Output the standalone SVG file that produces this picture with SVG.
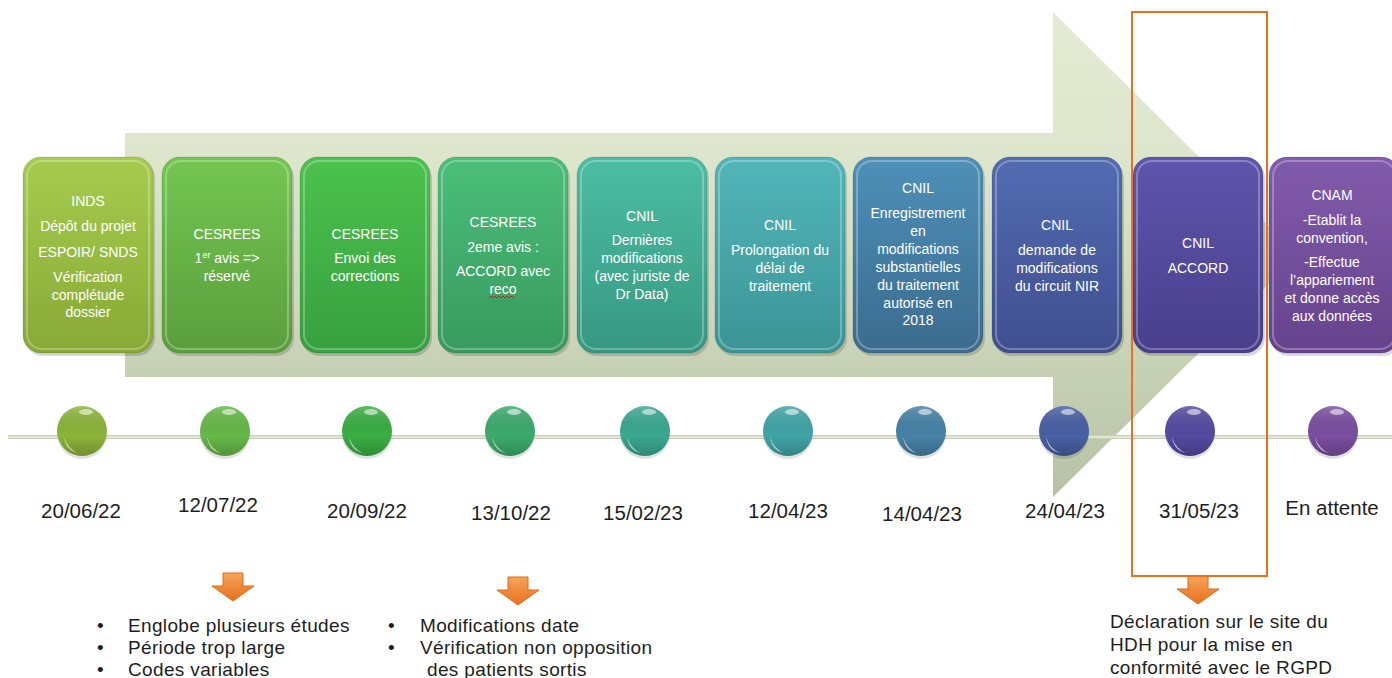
<svg xmlns="http://www.w3.org/2000/svg" width="1392" height="678" viewBox="0 0 1392 678">
<defs>
<linearGradient id="arrowG" x1="0" y1="12" x2="0" y2="497" gradientUnits="userSpaceOnUse">
<stop offset="0" stop-color="#e3ebd4"/><stop offset="0.3" stop-color="#dde6cc"/><stop offset="0.75" stop-color="#c5d0b4"/><stop offset="1" stop-color="#b6c2a6"/>
</linearGradient>
<linearGradient id="g1" x1="0" y1="0" x2="0" y2="1"><stop offset="0" stop-color="#a6cc4e"/><stop offset="1" stop-color="#88a936"/></linearGradient>
<linearGradient id="g2" x1="0" y1="0" x2="0" y2="1"><stop offset="0" stop-color="#74c652"/><stop offset="1" stop-color="#5a9e3c"/></linearGradient>
<linearGradient id="g3" x1="0" y1="0" x2="0" y2="1"><stop offset="0" stop-color="#4cc24e"/><stop offset="1" stop-color="#37a03f"/></linearGradient>
<linearGradient id="g4" x1="0" y1="0" x2="0" y2="1"><stop offset="0" stop-color="#4cbe7a"/><stop offset="1" stop-color="#389a5e"/></linearGradient>
<linearGradient id="g5" x1="0" y1="0" x2="0" y2="1"><stop offset="0" stop-color="#4cbea2"/><stop offset="1" stop-color="#379882"/></linearGradient>
<linearGradient id="g6" x1="0" y1="0" x2="0" y2="1"><stop offset="0" stop-color="#52b6ba"/><stop offset="1" stop-color="#3b9496"/></linearGradient>
<linearGradient id="g7" x1="0" y1="0" x2="0" y2="1"><stop offset="0" stop-color="#4e90b8"/><stop offset="1" stop-color="#3b6b8e"/></linearGradient>
<linearGradient id="g8" x1="0" y1="0" x2="0" y2="1"><stop offset="0" stop-color="#526cb2"/><stop offset="1" stop-color="#404e8e"/></linearGradient>
<linearGradient id="g9" x1="0" y1="0" x2="0" y2="1"><stop offset="0" stop-color="#5e56ac"/><stop offset="1" stop-color="#4a3e8c"/></linearGradient>
<linearGradient id="g10" x1="0" y1="0" x2="0" y2="1"><stop offset="0" stop-color="#825cac"/><stop offset="1" stop-color="#66428c"/></linearGradient>
<linearGradient id="og" x1="0" y1="0" x2="0" y2="1"><stop offset="0" stop-color="#f5a45a"/><stop offset="1" stop-color="#e8701e"/></linearGradient>
<linearGradient id="dotShade" x1="0" y1="0" x2="0" y2="1"><stop offset="0" stop-color="#fff" stop-opacity="0.18"/><stop offset="0.6" stop-color="#000" stop-opacity="0"/><stop offset="1" stop-color="#000" stop-opacity="0.2"/></linearGradient>
<symbol id="oarrow" overflow="visible">
<path d="M-10,0 H10 V13 H21 L0,28 L-21,13 H-10 Z" fill="url(#og)" stroke="#e06a18" stroke-width="1"/>
</symbol>
</defs>
<style>
.box{stroke:rgba(0,0,0,0.12);stroke-width:1}
.rim{fill:none;stroke:#ffffff;stroke-opacity:0.28;stroke-width:2}
.bt{font-family:"Liberation Sans",Arial,sans-serif;font-size:14px;fill:#ffffff;text-anchor:middle}
.dt{font-family:"Liberation Sans",Arial,sans-serif;font-size:20.5px;fill:#1e1e1e;text-anchor:middle}
.lt{font-family:"Liberation Sans",Arial,sans-serif;font-size:19px;letter-spacing:0.35px;fill:#1e1e1e}
.hl{fill:#ffffff;fill-opacity:0.55}
</style>

<g id="big-arrow">
<polygon points="125,133 1053,133 1053,12 1298,255 1053,497 1053,377 125,377" fill="url(#arrowG)"/>
</g>

<g id="timeline-line">
<line x1="8" y1="437" x2="1392" y2="437" stroke="#c5d0b5" stroke-width="4"/>
<line x1="8" y1="437" x2="1392" y2="437" stroke="#e9efdf" stroke-width="1.5"/>
</g>

<g id="box1">
<rect x="25" y="160" width="130" height="196" rx="18" fill="#000" opacity="0.15"/>
<rect class="box" x="23" y="157" width="130" height="196" rx="18" fill="url(#g1)"/>
<rect class="rim" x="27" y="161" width="122" height="188" rx="15"/>
<text class="bt" x="88"><tspan x="88" y="206">INDS</tspan><tspan x="88" y="231">Dépôt du projet</tspan><tspan x="88" y="257">ESPOIR/ SNDS</tspan><tspan x="88" y="282">Vérification</tspan><tspan x="88" y="300">complétude</tspan><tspan x="88" y="317">dossier</tspan></text>
</g>
<g id="box2">
<rect x="164" y="160" width="130" height="196" rx="18" fill="#000" opacity="0.15"/>
<rect class="box" x="162" y="157" width="130" height="196" rx="18" fill="url(#g2)"/>
<rect class="rim" x="166" y="161" width="122" height="188" rx="15"/>
<text class="bt"><tspan x="227" y="239">CESREES</tspan><tspan x="227" y="263">1<tspan font-size="9" dy="-5">er</tspan><tspan dy="5"> avis =&gt;</tspan></tspan><tspan x="227" y="281">réservé</tspan></text>
</g>
<g id="box3">
<rect x="302" y="160" width="130" height="196" rx="18" fill="#000" opacity="0.15"/>
<rect class="box" x="300" y="157" width="130" height="196" rx="18" fill="url(#g3)"/>
<rect class="rim" x="304" y="161" width="122" height="188" rx="15"/>
<text class="bt"><tspan x="365" y="239">CESREES</tspan><tspan x="365" y="263">Envoi des</tspan><tspan x="365" y="281">corrections</tspan></text>
</g>
<g id="box4">
<rect x="440" y="160" width="130" height="196" rx="18" fill="#000" opacity="0.15"/>
<rect class="box" x="438" y="157" width="130" height="196" rx="18" fill="url(#g4)"/>
<rect class="rim" x="442" y="161" width="122" height="188" rx="15"/>
<text class="bt"><tspan x="503" y="227">CESREES</tspan><tspan x="503" y="252">2eme avis :</tspan><tspan x="503" y="276">ACCORD avec</tspan><tspan x="503" y="294">reco</tspan></text>
<path d="M489,298 l2,-2 l2,2 l2,-2 l2,2 l2,-2 l2,2 l2,-2 l2,2 l2,-2 l2,2 l2,-2 l2,2 l2,-2" fill="none" stroke="#d02020" stroke-width="1"/>
</g>
<g id="box5">
<rect x="579" y="160" width="130" height="196" rx="18" fill="#000" opacity="0.15"/>
<rect class="box" x="577" y="157" width="130" height="196" rx="18" fill="url(#g5)"/>
<rect class="rim" x="581" y="161" width="122" height="188" rx="15"/>
<text class="bt"><tspan x="642" y="221">CNIL</tspan><tspan x="642" y="245">Dernières</tspan><tspan x="642" y="263">modifications</tspan><tspan x="642" y="281">(avec juriste de</tspan><tspan x="642" y="299">Dr Data)</tspan></text>
</g>
<g id="box6">
<rect x="717" y="160" width="130" height="196" rx="18" fill="#000" opacity="0.15"/>
<rect class="box" x="715" y="157" width="130" height="196" rx="18" fill="url(#g6)"/>
<rect class="rim" x="719" y="161" width="122" height="188" rx="15"/>
<text class="bt"><tspan x="780" y="230">CNIL</tspan><tspan x="780" y="255">Prolongation du</tspan><tspan x="780" y="273">délai de</tspan><tspan x="780" y="291">traitement</tspan></text>
</g>
<g id="box7">
<rect x="855" y="160" width="130" height="196" rx="18" fill="#000" opacity="0.15"/>
<rect class="box" x="853" y="157" width="130" height="196" rx="18" fill="url(#g7)"/>
<rect class="rim" x="857" y="161" width="122" height="188" rx="15"/>
<text class="bt"><tspan x="918" y="193">CNIL</tspan><tspan x="918" y="218">Enregistrement</tspan><tspan x="918" y="236">en</tspan><tspan x="918" y="254">modifications</tspan><tspan x="918" y="272">substantielles</tspan><tspan x="918" y="290">du traitement</tspan><tspan x="918" y="308">autorisé en</tspan><tspan x="918" y="325">2018</tspan></text>
</g>
<g id="box8">
<rect x="994" y="160" width="130" height="196" rx="18" fill="#000" opacity="0.15"/>
<rect class="box" x="992" y="157" width="130" height="196" rx="18" fill="url(#g8)"/>
<rect class="rim" x="996" y="161" width="122" height="188" rx="15"/>
<text class="bt"><tspan x="1057" y="230">CNIL</tspan><tspan x="1057" y="255">demande de</tspan><tspan x="1057" y="273">modifications</tspan><tspan x="1057" y="291">du circuit NIR</tspan></text>
</g>
<g id="box9">
<rect x="1135" y="160" width="130" height="196" rx="18" fill="#000" opacity="0.15"/>
<rect class="box" x="1133" y="157" width="130" height="196" rx="18" fill="url(#g9)"/>
<rect class="rim" x="1137" y="161" width="122" height="188" rx="15"/>
<text class="bt"><tspan x="1198" y="248">CNIL</tspan><tspan x="1198" y="273">ACCORD</tspan></text>
</g>
<g id="box10">
<rect x="1271" y="160" width="130" height="196" rx="18" fill="#000" opacity="0.15"/>
<rect class="box" x="1269" y="157" width="130" height="196" rx="18" fill="url(#g10)"/>
<rect class="rim" x="1273" y="161" width="122" height="188" rx="15"/>
<text class="bt"><tspan x="1332" y="200">CNAM</tspan><tspan x="1332" y="225">-Etablit la</tspan><tspan x="1332" y="243">convention,</tspan><tspan x="1332" y="267">-Effectue</tspan><tspan x="1332" y="285">l’appariement</tspan><tspan x="1332" y="303">et donne accès</tspan><tspan x="1332" y="321">aux données</tspan></text>
</g>

<g id="dots">
<g id="dot1"><ellipse cx="82" cy="434" rx="25" ry="25" fill="#000" opacity="0.12"/><circle cx="82" cy="431" r="25" fill="#8cb43a"/><circle cx="82" cy="431" r="25" fill="url(#dotShade)"/><path class="hl" d="M64,437 q4,12 14,16 q-12,-2 -14,-16 z"/><ellipse class="hl" cx="86" cy="412" rx="7" ry="3"/></g>
<g id="dot2"><ellipse cx="225" cy="434" rx="25" ry="25" fill="#000" opacity="0.12"/><circle cx="225" cy="431" r="25" fill="#66b848"/><circle cx="225" cy="431" r="25" fill="url(#dotShade)"/><path class="hl" d="M207,437 q4,12 14,16 q-12,-2 -14,-16 z"/><ellipse class="hl" cx="229" cy="412" rx="7" ry="3"/></g>
<g id="dot3"><ellipse cx="367" cy="434" rx="25" ry="25" fill="#000" opacity="0.12"/><circle cx="367" cy="431" r="25" fill="#3aae44"/><circle cx="367" cy="431" r="25" fill="url(#dotShade)"/><path class="hl" d="M349,437 q4,12 14,16 q-12,-2 -14,-16 z"/><ellipse class="hl" cx="371" cy="412" rx="7" ry="3"/></g>
<g id="dot4"><ellipse cx="510" cy="434" rx="25" ry="25" fill="#000" opacity="0.12"/><circle cx="510" cy="431" r="25" fill="#3caa6c"/><circle cx="510" cy="431" r="25" fill="url(#dotShade)"/><path class="hl" d="M492,437 q4,12 14,16 q-12,-2 -14,-16 z"/><ellipse class="hl" cx="514" cy="412" rx="7" ry="3"/></g>
<g id="dot5"><ellipse cx="645" cy="434" rx="25" ry="25" fill="#000" opacity="0.12"/><circle cx="645" cy="431" r="25" fill="#3aa890"/><circle cx="645" cy="431" r="25" fill="url(#dotShade)"/><path class="hl" d="M627,437 q4,12 14,16 q-12,-2 -14,-16 z"/><ellipse class="hl" cx="649" cy="412" rx="7" ry="3"/></g>
<g id="dot6"><ellipse cx="788" cy="434" rx="25" ry="25" fill="#000" opacity="0.12"/><circle cx="788" cy="431" r="25" fill="#40a4a6"/><circle cx="788" cy="431" r="25" fill="url(#dotShade)"/><path class="hl" d="M770,437 q4,12 14,16 q-12,-2 -14,-16 z"/><ellipse class="hl" cx="792" cy="412" rx="7" ry="3"/></g>
<g id="dot7"><ellipse cx="921" cy="434" rx="25" ry="25" fill="#000" opacity="0.12"/><circle cx="921" cy="431" r="25" fill="#4682a6"/><circle cx="921" cy="431" r="25" fill="url(#dotShade)"/><path class="hl" d="M903,437 q4,12 14,16 q-12,-2 -14,-16 z"/><ellipse class="hl" cx="925" cy="412" rx="7" ry="3"/></g>
<g id="dot8"><ellipse cx="1064" cy="434" rx="25" ry="25" fill="#000" opacity="0.12"/><circle cx="1064" cy="431" r="25" fill="#4860a4"/><circle cx="1064" cy="431" r="25" fill="url(#dotShade)"/><path class="hl" d="M1046,437 q4,12 14,16 q-12,-2 -14,-16 z"/><ellipse class="hl" cx="1068" cy="412" rx="7" ry="3"/></g>
<g id="dot9"><ellipse cx="1190" cy="434" rx="25" ry="25" fill="#000" opacity="0.12"/><circle cx="1190" cy="431" r="25" fill="#544aa0"/><circle cx="1190" cy="431" r="25" fill="url(#dotShade)"/><path class="hl" d="M1172,437 q4,12 14,16 q-12,-2 -14,-16 z"/><ellipse class="hl" cx="1194" cy="412" rx="7" ry="3"/></g>
<g id="dot10"><ellipse cx="1333" cy="434" rx="25" ry="25" fill="#000" opacity="0.12"/><circle cx="1333" cy="431" r="25" fill="#7a4ea0"/><circle cx="1333" cy="431" r="25" fill="url(#dotShade)"/><path class="hl" d="M1315,437 q4,12 14,16 q-12,-2 -14,-16 z"/><ellipse class="hl" cx="1337" cy="412" rx="7" ry="3"/></g>
</g>

<g id="dates">
<text class="dt" x="81" y="518">20/06/22</text>
<text class="dt" x="218" y="512">12/07/22</text>
<text class="dt" x="367" y="518">20/09/22</text>
<text class="dt" x="511" y="520">13/10/22</text>
<text class="dt" x="643" y="520">15/02/23</text>
<text class="dt" x="788" y="518">12/04/23</text>
<text class="dt" x="922" y="521">14/04/23</text>
<text class="dt" x="1065" y="518">24/04/23</text>
<text class="dt" x="1199" y="518">31/05/23</text>
<text class="dt" x="1332" y="515">En attente</text>
</g>

<g id="connectors">
<use href="#oarrow" x="233" y="573"/>
<use href="#oarrow" x="518" y="577"/>
<use href="#oarrow" x="1198" y="576"/>
</g>

<g id="notes">
<text class="lt"><tspan x="97" y="632">•</tspan><tspan x="128" y="632">Englobe plusieurs études</tspan></text>
<text class="lt"><tspan x="97" y="654">•</tspan><tspan x="128" y="654">Période trop large</tspan></text>
<text class="lt"><tspan x="97" y="676">•</tspan><tspan x="128" y="676">Codes variables</tspan></text>
<text class="lt"><tspan x="388" y="632">•</tspan><tspan x="420" y="632">Modifications date</tspan></text>
<text class="lt"><tspan x="388" y="654">•</tspan><tspan x="420" y="654">Vérification non opposition</tspan></text>
<text class="lt" x="427" y="676">des patients sortis</text>
<text class="lt"><tspan x="1110" y="628">Déclaration sur le site du</tspan><tspan x="1110" y="651">HDH pour la mise en</tspan><tspan x="1110" y="674">conformité avec le RGPD</tspan></text>
</g>

<g id="highlight-frame">
<rect x="1132" y="12" width="135" height="564" fill="none" stroke="#e8701e" stroke-width="2"/>
</g>
</svg>
